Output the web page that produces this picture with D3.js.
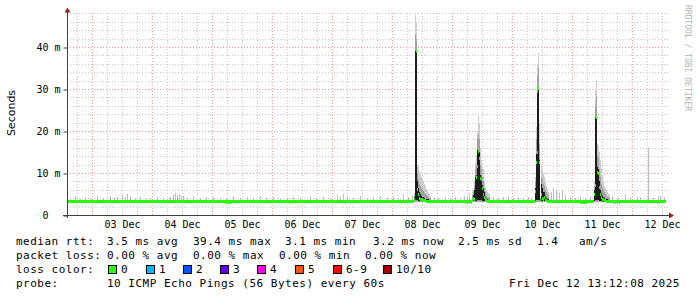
<!DOCTYPE html>
<html lang="en">
<head>
<meta charset="UTF-8">
<title>smokeping last 10 days</title>
<script src="https://d3js.org/d3.v7.min.js"></script>
<style>
  body { margin: 0; background: #fff; }
  svg { display: block; }
  text { font-family: "DejaVu Sans Mono", monospace; }
</style>
</head>
<body>
<script>
// x is hours after 2 Dec 14:00, one rrd step = 0.4 h (one pixel)
var start = new Date(2025, 11, 2, 14, 0);
var spanHours = 240, step = 0.4, dataEnd = 239.6;
var baseMedian = 3.3;

// y axis ticks (ms)
var yTicks = [0, 10, 20, 30, 40];
var yTickLabels = ["0  ", "10 m", "20 m", "30 m", "40 m"];

// spikes: [hour, median, min, darkLo, darkHi, midHi, max]  (ms)
var spikeA = [
  [138.8, 3.8, 3.1, 3.3, 4.2, 4.6, 5.2],
  [139.2, 39.4, 3.2, 3.5, 39.4, 43.0, 47.6],
  [139.6, 39.0, 3.2, 3.5, 39.0, 42.0, 46.0],
  [140.0, 6.0, 3.2, 3.5, 8.0, 10.0, 12.0],
  [140.4, 4.8, 3.1, 3.4, 6.5, 8.5, 11.5],
  [140.8, 4.0, 3.1, 3.3, 5.5, 7.5, 10.5],
  [141.2, 3.8, 3.1, 3.3, 5.0, 7.0, 9.5],
  [141.6, 3.6, 3.1, 3.3, 4.6, 6.5, 9.0],
  [142.0, 3.8, 3.1, 3.3, 4.4, 6.0, 8.5],
  [142.4, 3.5, 3.1, 3.3, 4.2, 5.6, 8.0],
  [142.8, 3.4, 3.0, 3.2, 4.0, 5.2, 7.4],
  [143.2, 3.4, 3.0, 3.2, 3.9, 5.0, 6.8],
  [143.6, 3.3, 3.0, 3.2, 3.8, 4.8, 6.2],
  [144.0, 3.3, 3.0, 3.2, 3.7, 4.5, 5.6],
  [144.4, 3.3, 3.0, 3.2, 3.7, 4.3, 5.2],
  [144.8, 3.3, 3.0, 3.2, 3.6, 4.1, 5.0],
  [145.2, 3.3, 3.0, 3.2, 3.6, 4.0, 4.6]
];
var spikeB = [
  [162.0, 3.6, 3.1, 3.3, 4.0, 4.8, 6.0],
  [162.4, 4.0, 3.1, 3.4, 4.8, 5.5, 6.5],
  [162.8, 3.8, 3.1, 3.3, 6.0, 7.0, 8.0],
  [163.2, 9.3, 3.2, 3.4, 9.5, 11.0, 12.5],
  [163.6, 9.0, 3.2, 3.4, 9.5, 12.0, 14.0],
  [164.0, 11.5, 3.2, 3.5, 15.5, 18.0, 20.0],
  [164.4, 15.2, 3.2, 3.6, 15.5, 19.0, 23.5],
  [164.8, 13.5, 3.2, 3.6, 15.0, 18.0, 22.0],
  [165.2, 8.8, 3.2, 3.5, 9.5, 12.0, 16.0],
  [165.6, 8.5, 3.2, 3.5, 9.0, 11.0, 13.0],
  [166.0, 6.4, 3.1, 3.4, 7.2, 9.0, 12.0],
  [166.4, 4.8, 3.1, 3.3, 6.4, 8.0, 11.0],
  [166.8, 4.2, 3.1, 3.3, 5.5, 6.5, 8.0],
  [167.2, 3.6, 3.1, 3.3, 4.2, 5.5, 6.5],
  [167.6, 3.4, 3.0, 3.2, 3.8, 4.8, 6.0],
  [168.0, 3.3, 3.0, 3.2, 3.7, 4.4, 5.5],
  [168.4, 3.3, 3.0, 3.2, 3.6, 4.2, 5.2],
  [168.8, 3.3, 3.0, 3.2, 3.6, 4.0, 5.0]
];
var spikeC = [
  [187.2, 5.7, 3.2, 3.4, 6.5, 8.0, 9.0],
  [187.6, 12.6, 3.2, 3.5, 14.5, 18.0, 21.0],
  [188.0, 14.8, 3.2, 3.6, 29.0, 33.0, 36.0],
  [188.4, 30.2, 3.2, 3.6, 30.2, 35.0, 38.5],
  [188.8, 12.4, 3.2, 3.5, 13.0, 17.0, 22.0],
  [189.2, 3.5, 3.1, 3.3, 3.8, 4.0, 4.2],
  [189.6, 4.8, 3.1, 3.3, 7.5, 9.0, 12.0],
  [190.0, 4.0, 3.1, 3.3, 6.5, 8.5, 11.0],
  [190.4, 3.6, 3.1, 3.3, 5.5, 7.5, 10.0],
  [190.8, 4.2, 3.1, 3.3, 5.5, 7.0, 9.0],
  [191.2, 3.5, 3.0, 3.2, 4.5, 6.0, 8.0],
  [191.6, 3.4, 3.0, 3.2, 4.0, 5.5, 7.0],
  [192.0, 3.3, 3.0, 3.2, 3.8, 5.0, 6.5],
  [192.4, 3.3, 3.0, 3.2, 3.7, 4.5, 5.5]
];
var spikeD = [
  [210.8, 5.0, 3.2, 3.4, 6.0, 7.0, 8.0],
  [211.2, 7.0, 3.2, 3.5, 23.0, 26.0, 30.0],
  [211.6, 23.3, 3.2, 3.6, 23.3, 28.0, 32.0],
  [212.0, 10.2, 3.2, 3.5, 11.5, 14.0, 17.0],
  [212.4, 10.0, 3.2, 3.5, 11.0, 13.5, 16.5],
  [212.8, 6.5, 3.1, 3.4, 8.0, 11.0, 15.0],
  [213.2, 5.0, 3.1, 3.3, 6.0, 9.0, 13.0],
  [213.6, 4.2, 3.1, 3.3, 5.2, 7.5, 11.0],
  [214.0, 3.8, 3.1, 3.3, 4.6, 6.5, 9.5],
  [214.4, 3.6, 3.0, 3.2, 4.2, 6.0, 8.0],
  [214.8, 3.5, 3.0, 3.2, 4.0, 5.5, 7.0],
  [215.2, 3.4, 3.0, 3.2, 3.8, 5.0, 6.5],
  [215.6, 3.3, 3.0, 3.2, 3.7, 4.6, 6.0],
  [216.0, 3.3, 3.0, 3.2, 3.7, 4.4, 5.5],
  [216.4, 3.3, 3.0, 3.2, 3.6, 4.2, 5.0],
  [216.8, 3.3, 3.0, 3.2, 3.6, 4.0, 4.8]
];

// single-step smoke peaks over the flat part: [hour, max ms]
var grass = [
  [1.2, 4.1], [3.2, 4.5], [5.2, 3.9], [7.2, 4.2], [9.2, 4.0], [12.0, 4.6], [14.4, 4.0],
  [17.2, 4.5], [18.8, 4.1], [20.0, 4.3], [22.0, 4.8], [23.2, 4.4], [24.0, 5.0], [25.2, 4.6],
  [27.2, 4.0], [29.2, 4.2], [31.6, 3.9], [33.2, 4.1], [36.0, 4.3], [38.4, 4.0], [41.2, 4.4],
  [42.4, 4.8], [43.2, 5.2], [44.0, 4.7], [44.8, 5.0], [45.6, 4.5], [46.4, 4.6], [48.0, 4.1],
  [50.4, 4.6], [53.2, 4.0], [55.6, 4.2], [58.4, 4.3], [61.2, 4.0], [63.6, 4.1], [66.4, 4.5],
  [69.2, 4.0], [72.0, 4.2], [74.4, 4.0], [77.2, 4.5], [79.6, 4.0], [82.4, 4.2], [85.2, 3.9],
  [88.0, 4.1], [90.4, 4.3], [93.2, 4.0], [97.2, 4.5], [99.6, 4.0], [102.4, 4.2], [105.2, 4.0],
  [108.0, 4.8], [109.2, 4.6], [110.4, 5.0], [112.0, 4.5], [114.4, 4.1], [117.2, 4.5], [120.0, 4.0],
  [122.4, 4.2], [125.2, 4.5], [128.0, 4.0], [130.4, 4.4], [132.4, 4.1], [134.4, 5.0], [136.4, 4.2],
  [138.0, 4.5], [146.8, 4.2], [148.4, 4.0], [151.2, 4.3], [153.2, 4.0], [155.2, 4.2], [157.2, 4.0],
  [158.8, 4.5], [160.0, 4.4], [160.8, 5.2], [170.4, 4.4], [172.4, 4.0], [174.4, 4.2], [176.4, 4.5],
  [178.4, 4.0], [180.4, 4.3], [182.4, 4.1], [184.4, 4.4], [185.6, 4.0], [193.6, 5.5], [194.4, 6.5],
  [195.6, 5.8], [196.8, 5.2], [198.0, 6.0], [199.2, 4.8], [201.2, 4.3], [203.2, 4.1], [205.2, 4.5],
  [207.2, 4.0], [209.2, 4.6], [218.0, 4.5], [220.4, 4.0], [223.2, 5.0], [225.2, 4.1], [228.0, 4.2],
  [229.2, 4.3], [232.4, 16.0], [234.4, 4.0], [236.4, 4.5], [237.2, 4.6], [238.8, 4.2]
];

// median steps off the flat line: [hour, ms]
var medianDips = [
  [44.0, 3.6], [63.6, 3.0], [64.4, 3.0], [65.2, 3.0], [89.2, 3.0], [111.2, 3.0],
  [159.2, 3.0], [160.0, 3.0], [160.8, 3.0], [161.6, 3.0],
  [205.2, 3.0], [206.0, 3.0], [206.8, 3.0], [207.6, 3.0],
  [218.4, 3.0], [219.2, 3.0], [220.0, 3.0], [220.8, 3.0], [236.0, 3.0], [236.8, 3.0]
];

// legend
var rttStats = [["median rtt:", 16], ["3.5 ms avg", 107], ["39.4 ms max", 193], ["3.1 ms min", 285],
  ["3.2 ms now", 373], ["2.5 ms sd", 458], ["1.4", 537], ["am/s", 579]];
var lossStats = [["packet loss:", 16], ["0.00 % avg", 107], ["0.00 % max", 193], ["0.00 % min", 279], ["0.00 % now", 365]];
var lossLabels = ["0", "1", "2", "3", "4", "5", "6-9", "10/10"];
var lossColors = ["#26ff00", "#00b8ff", "#0059ff", "#5e00ff", "#ff00f0", "#ff5500", "#ff0000", "#a10000"];
var lossBoxX = [108, 146, 183, 220, 257, 295, 333, 383];
var probeText = "10 ICMP Echo Pings (56 Bytes) every 60s";
var stamp = "Fri Dec 12 13:12:08 2025";

var W = 697, H = 297;
var padL = 67, padR = 667, padT = 13.4, padB = 215;

function at(h) { return new Date(+start + h * 3600e3); }

var svg = d3.select("body").append("svg")
    .attr("width", W)
    .attr("height", H);

var x = d3.scaleTime().domain([start, at(spanHours)]).range([padL, padR]);
var y = d3.scaleLinear().domain([0, 48]).range([padB, padT]);

// grid
var grid = svg.append("g").attr("shape-rendering", "crispEdges");
var sixHours = d3.timeHour.every(6).range(start, at(spanHours));
grid.selectAll(".vmin")
    .data(sixHours.filter(function(d) { return d.getHours() != 0; }))
    .enter().append("line")
    .attr("x1", function(d) { return Math.round(x(d)) + 0.5; })
    .attr("x2", function(d) { return Math.round(x(d)) + 0.5; })
    .attr("y1", padT).attr("y2", padB)
    .style("stroke", "#c8c8c8").style("stroke-dasharray", "1,2");
grid.selectAll(".hmin")
    .data(d3.range(2, 49, 2).filter(function(d) { return d % 10 != 0; }))
    .enter().append("line")
    .attr("x1", padL).attr("x2", padR + 1)
    .attr("y1", function(d) { return Math.round(y(d)) + 0.5; })
    .attr("y2", function(d) { return Math.round(y(d)) + 0.5; })
    .style("stroke", "#c8c8c8").style("stroke-dasharray", "1,2");
grid.selectAll(".vmaj")
    .data(d3.timeDay.range(start, at(spanHours)))
    .enter().append("line")
    .attr("x1", function(d) { return Math.round(x(d)) + 0.5; })
    .attr("x2", function(d) { return Math.round(x(d)) + 0.5; })
    .attr("y1", padT).attr("y2", padB)
    .style("stroke", "#eb9a9a").style("stroke-dasharray", "1,2");
grid.selectAll(".hmaj")
    .data(yTicks.slice(1))
    .enter().append("line")
    .attr("x1", padL).attr("x2", padR + 1)
    .attr("y1", function(d) { return Math.round(y(d)) + 0.5; })
    .attr("y2", function(d) { return Math.round(y(d)) + 0.5; })
    .style("stroke", "#eb9a9a").style("stroke-dasharray", "1,2");

// smoke
var plot = svg.append("g").attr("shape-rendering", "crispEdges");
function colW(h) { return x(at(h + step)) - x(at(h)); }

plot.selectAll(".grass")
    .data(grass)
    .enter().append("rect")
    .attr("x", function(d) { return x(at(d[0])); })
    .attr("width", function(d) { return colW(d[0]); })
    .attr("y", function(d) { return y(d[1]); })
    .attr("height", function(d) { return y(baseMedian) - y(d[1]); })
    .style("fill", "#bdbdbd");

var spikes = spikeA.concat(spikeB, spikeC, spikeD);
var layers = [
  {lo: 2, hi: 6, color: "#cccccc"},
  {lo: 2, hi: 5, color: "#a2a2a2"},
  {lo: 3, hi: 4, color: "#1c1c1c"}
];
layers.forEach(function(l) {
  plot.append("g").selectAll("rect")
      .data(spikes)
      .enter().append("rect")
      .attr("x", function(d) { return x(at(d[0])); })
      .attr("width", function(d) { return colW(d[0]); })
      .attr("y", function(d) { return y(d[l.hi]); })
      .attr("height", function(d) { return y(d[l.lo]) - y(d[l.hi]); })
      .style("fill", l.color);
});

// median, flat parts between the spike clusters
var clusters = [spikeA, spikeB, spikeC, spikeD];
var flat = [];
var from = 0;
clusters.forEach(function(c) {
  flat.push([from, c[0][0]]);
  from = c[c.length - 1][0] + step;
});
flat.push([from, dataEnd]);

var band = 1.5;
plot.selectAll(".flat")
    .data(flat)
    .enter().append("rect")
    .attr("x", function(d) { return x(at(d[0])); })
    .attr("width", function(d) { return x(at(d[1])) - x(at(d[0])); })
    .attr("y", y(baseMedian) - band)
    .attr("height", band * 2)
    .style("fill", lossColors[0]);

plot.selectAll(".med")
    .data(spikes.map(function(d) { return [d[0], d[1]]; }).concat(medianDips))
    .enter().append("rect")
    .attr("x", function(d) { return x(at(d[0])); })
    .attr("width", function(d) { return colW(d[0]); })
    .attr("y", function(d) { return y(d[1]) - band; })
    .attr("height", band * 2)
    .style("fill", lossColors[0]);

// axes lines and arrows
var axisColor = "#404040", arrowColor = "#9b1c1c";
svg.append("line")
    .attr("x1", padL + 0.5).attr("x2", padL + 0.5)
    .attr("y1", padB + 3).attr("y2", 11)
    .style("stroke", axisColor);
svg.append("line")
    .attr("x1", padL - 4).attr("x2", padR + 3)
    .attr("y1", padB + 0.5).attr("y2", padB + 0.5)
    .style("stroke", axisColor);
svg.append("path")
    .attr("d", "M" + (padL - 2.5) + ",12.5L" + (padL + 0.5) + ",7.5L" + (padL + 3.5) + ",12.5Z")
    .style("fill", arrowColor);
svg.append("path")
    .attr("d", "M" + (padR + 2) + "," + (padB - 2.5) + "L" + (padR + 7) + "," + (padB + 0.5) +
          "L" + (padR + 2) + "," + (padB + 3.5) + "Z")
    .style("fill", arrowColor);

// y labels
var yAxis = d3.axisLeft(y)
    .tickValues(yTicks)
    .tickFormat(function(d, i) { return yTickLabels[i]; })
    .tickSize(4)
    .tickPadding(3);
svg.append("g")
    .attr("transform", "translate(" + (padL + 0.5) + ",0.5)")
    .call(yAxis)
    .call(function(g) { g.select(".domain").remove(); })
    .call(function(g) {
      g.selectAll("line").style("stroke", axisColor);
      g.selectAll("text")
          .attr("xml:space", "preserve")
          .style("white-space", "pre")
          .style("font-family", "'DejaVu Sans Mono', monospace")
          .style("font-size", "10px")
          .style("fill", "#000");
    });

// x labels at noon
var xAxis = d3.axisBottom(x)
    .tickValues(d3.timeDay.range(start, at(spanHours)).map(function(d) { return d3.timeHour.offset(d, 12); }))
    .tickFormat(d3.timeFormat("%d %b"))
    .tickSize(0)
    .tickPadding(6);
svg.append("g")
    .attr("transform", "translate(0," + padB + ")")
    .call(xAxis)
    .call(function(g) { g.select(".domain").remove(); })
    .call(function(g) {
      g.selectAll("text")
          .style("font-family", "'DejaVu Sans Mono', monospace")
          .style("font-size", "10px")
          .style("fill", "#000");
    });

// titles
svg.append("text")
    .attr("transform", "translate(15,113) rotate(-90)")
    .attr("text-anchor", "middle")
    .style("font-family", "'DejaVu Sans', sans-serif")
    .style("font-size", "11px")
    .text("Seconds");

svg.append("text")
    .attr("transform", "translate(685,5) rotate(90)")
    .style("font-size", "8px")
    .style("fill", "#b4b4b4")
    .text("RRDTOOL / TOBI OETIKER");

// legend
var legend = svg.append("g")
    .style("font-size", "11px")
    .style("letter-spacing", "0.5px")
    .style("fill", "#000");
function row(items, base) {
  legend.selectAll(null)
      .data(items)
      .enter().append("text")
      .attr("x", function(d) { return d[1]; })
      .attr("y", base)
      .text(function(d) { return d[0]; });
}
row(rttStats, 245);
row(lossStats, 259);
row([["loss color:", 16]], 273);
row([["probe:", 16], [probeText, 107]], 287);

legend.selectAll(".box")
    .data(lossColors)
    .enter().append("rect")
    .attr("x", function(d, i) { return lossBoxX[i] + 0.5; })
    .attr("y", 265.5)
    .attr("width", 8)
    .attr("height", 8)
    .style("fill", function(d) { return d; })
    .style("stroke", "#000");
legend.selectAll(".lbl")
    .data(lossLabels)
    .enter().append("text")
    .attr("x", function(d, i) { return lossBoxX[i] + 13; })
    .attr("y", 273)
    .text(function(d) { return d; });

legend.append("text")
    .attr("x", 680)
    .attr("y", 287)
    .attr("text-anchor", "end")
    .text(stamp);
</script>
</body>
</html>
